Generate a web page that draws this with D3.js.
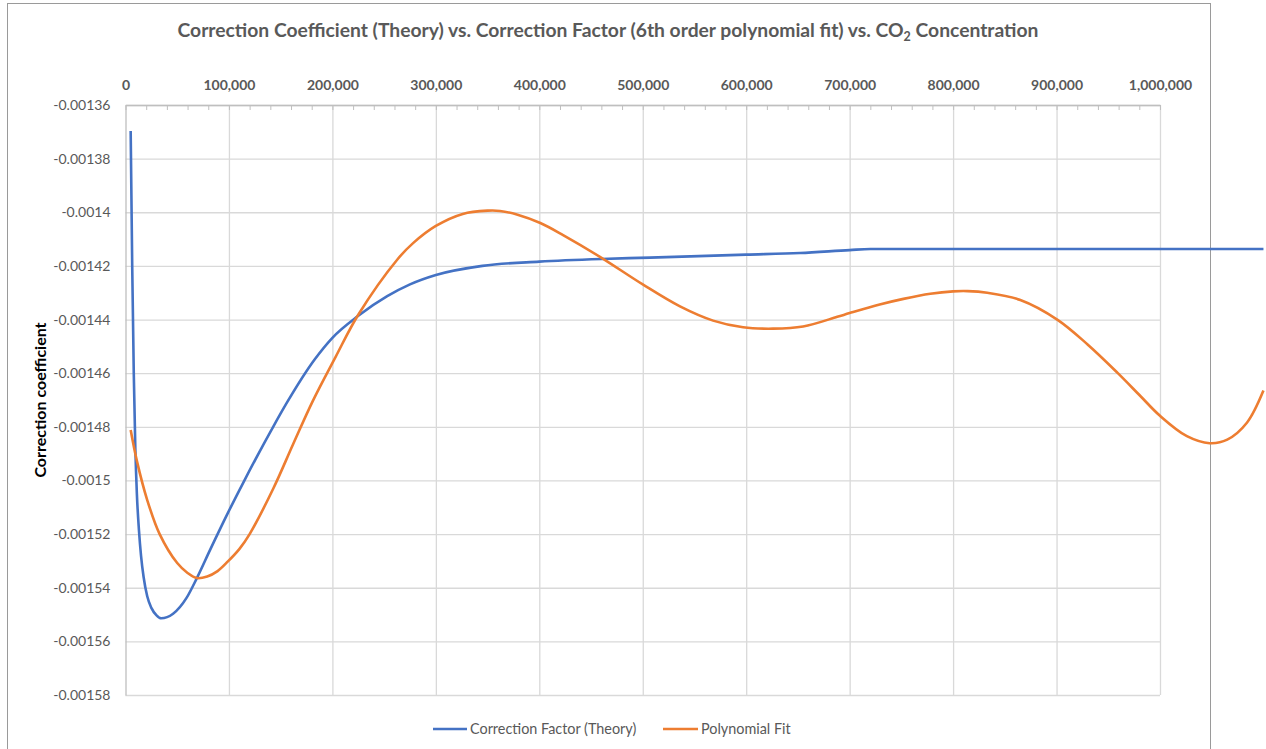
<!DOCTYPE html>
<html>
<head>
<meta charset="utf-8">
<script src="https://cdn.jsdelivr.net/npm/d3@7"></script>
<style>
  html, body { margin: 0; padding: 0; background: #ffffff; }
  svg { display: block; font-family: Lato, "Open Sans", sans-serif; }
</style>
</head>
<body>
<svg id="chart" width="1266" height="749"></svg>
<script>
// ---- data ----
const titleMain = "Correction Coefficient (Theory) vs. Correction Factor (6th order polynomial fit) vs. CO";
const titleSub = "2";
const titleEnd = " Concentration";
const yAxisTitle = "Correction coefficient";
const seriesNames = ["Correction Factor (Theory)", "Polynomial Fit"];

const xTicks = [0, 100000, 200000, 300000, 400000, 500000, 600000, 700000, 800000, 900000, 1000000];
const xMinorStep = 20000;
const yTicks = [-0.00136, -0.00138, -0.0014, -0.00142, -0.00144, -0.00146, -0.00148, -0.0015, -0.00152, -0.00154, -0.00156, -0.00158];
const yTickLabels = ["-0.00136", "-0.00138", "-0.0014", "-0.00142", "-0.00144", "-0.00146", "-0.00148", "-0.0015", "-0.00152", "-0.00154", "-0.00156", "-0.00158"];

const theoryX = [5000, 6500, 8000, 9500, 11000, 13000, 15000, 17500, 21000, 25000, 30000, 34500, 46000, 59000, 69000, 82000, 99000, 114000, 143000, 156000, 183000, 200000, 225000, 253000, 275000, 300000, 345000, 400000, 460000, 507000, 600000, 652000, 700000, 720000, 1100000];
const theoryY = [-0.0013697, -0.0014204, -0.0014600, -0.0014880, -0.0015050, -0.0015185, -0.0015280, -0.0015360, -0.0015432, -0.0015475, -0.0015503, -0.0015514, -0.0015497, -0.0015438, -0.0015364, -0.0015257, -0.0015121, -0.0015007, -0.0014798, -0.0014710, -0.0014548, -0.0014468, -0.0014386, -0.0014313, -0.0014269, -0.0014234, -0.0014200, -0.0014184, -0.0014174, -0.0014169, -0.0014158, -0.0014152, -0.0014141, -0.0014137, -0.0014137];

const fitX = [5000, 11000, 21000, 33000, 50000, 60000, 69000, 79000, 89000, 99000, 110000, 120000, 143000, 162000, 181000, 203000, 225000, 263000, 278000, 300000, 326000, 350000, 362000, 379000, 401000, 423000, 459000, 500000, 536000, 568000, 597000, 626000, 655000, 688000, 700000, 729000, 752000, 778000, 800000, 814000, 833000, 865000, 901000, 930000, 959000, 981000, 1000000, 1026000, 1048000, 1065000, 1084000, 1100000];
const fitY = [-0.0014812, -0.0014927, -0.0015073, -0.0015200, -0.0015308, -0.0015345, -0.0015364, -0.0015358, -0.0015338, -0.0015302, -0.0015256, -0.0015200, -0.0015029, -0.0014865, -0.0014704, -0.0014540, -0.0014382, -0.0014175, -0.0014115, -0.0014051, -0.0014006, -0.0013994, -0.0013995, -0.0014009, -0.0014040, -0.0014085, -0.0014167, -0.0014269, -0.0014351, -0.0014404, -0.0014429, -0.0014434, -0.0014426, -0.0014390, -0.0014376, -0.0014344, -0.0014323, -0.0014304, -0.0014295, -0.0014294, -0.0014300, -0.0014327, -0.0014401, -0.0014493, -0.0014599, -0.0014685, -0.0014759, -0.0014835, -0.0014861, -0.0014848, -0.0014785, -0.0014665];

const colors = ["#4472C4", "#ED7D31"];

// ---- layout ----
const svg = d3.select("#chart");
const W = 1266, H = 749;
const plot = { left: 125.5, right: 1160, top: 105, bottom: 695 };

svg.append("rect").attr("x", 0).attr("y", 0).attr("width", W).attr("height", H).attr("fill", "#fff");
// chart frame
svg.append("rect").attr("x", 7.5).attr("y", 3.5).attr("width", 1203).attr("height", 780)
  .attr("fill", "none").attr("stroke", "#9a9a9a").attr("stroke-width", 1);

const x = d3.scaleLinear().domain([0, 1000000]).range([plot.left, plot.right]);
const y = d3.scaleLinear().domain([-0.00136, -0.00158]).range([plot.top, plot.bottom]);

// gridlines
const gx = svg.append("g").attr("class", "grid-x")
  .attr("transform", `translate(0,${plot.bottom})`)
  .call(d3.axisBottom(x).tickValues(xTicks.slice(1)).tickSize(-(plot.bottom - plot.top)).tickFormat(""));
gx.select(".domain").remove();
gx.selectAll("line").attr("stroke", "#d9d9d9").attr("stroke-width", 1.3);

const gy = svg.append("g").attr("class", "grid-y")
  .attr("transform", `translate(${plot.left},0)`)
  .call(d3.axisLeft(y).tickValues(yTicks).tickSize(-(plot.right - plot.left)).tickFormat(""));
gy.select(".domain").remove();
gy.selectAll("line").attr("stroke", "#d9d9d9").attr("stroke-width", 1.3);

// left axis (labels)
const ay = svg.append("g")
  .attr("transform", `translate(${plot.left},0)`)
  .call(d3.axisLeft(y).tickValues(yTicks).tickSize(0).tickPadding(15)
    .tickFormat((d, i) => yTickLabels[i]));
ay.select(".domain").attr("stroke", "#bfbfbf").attr("stroke-width", 1.3);
ay.selectAll("text").attr("fill", "#595959").style("font-size", "14px")
  .style("font-family", "Lato, sans-serif");

// top axis minor ticks
const minorTicks = d3.range(0, 1000000 + 1, xMinorStep);
const axMinor = svg.append("g")
  .attr("transform", `translate(0,${plot.top})`)
  .call(d3.axisTop(x).tickValues(minorTicks).tickSizeInner(-5).tickSizeOuter(0).tickFormat(""));
axMinor.select(".domain").attr("stroke", "#bfbfbf").attr("stroke-width", 1.3);
axMinor.selectAll("line").attr("stroke", "#bfbfbf");

// top axis labels
const ax = svg.append("g")
  .attr("transform", `translate(0,${plot.top})`)
  .call(d3.axisTop(x).tickValues(xTicks).tickSize(0).tickPadding(15).tickFormat(d3.format(",")));
ax.select(".domain").remove();
ax.selectAll("text").attr("fill", "#595959").style("font-size", "14px")
  .style("font-weight", "bold").style("font-family", "Lato, sans-serif");

// lines
const theory = theoryX.map((v, i) => [v, theoryY[i]]);
const fit = fitX.map((v, i) => [v, fitY[i]]);
svg.append("path").datum(theory)
  .attr("d", d3.line().x(d => x(d[0])).y(d => y(d[1])).curve(d3.curveMonotoneX))
  .attr("fill", "none").attr("stroke", colors[0]).attr("stroke-width", 2.6).attr("stroke-linejoin", "round");
svg.append("path").datum(fit)
  .attr("d", d3.line().x(d => x(d[0])).y(d => y(d[1])).curve(d3.curveCatmullRom.alpha(0.5)))
  .attr("fill", "none").attr("stroke", colors[1]).attr("stroke-width", 2.6).attr("stroke-linejoin", "round");

// title
const t = svg.append("text").attr("x", 608).attr("y", 37).attr("text-anchor", "middle")
  .attr("fill", "#595959").style("font-size", "19.3px").style("font-weight", "bold")
  .style("font-family", "Lato, sans-serif");
t.append("tspan").text(titleMain);
t.append("tspan").text(titleSub).attr("dy", 4).style("font-size", "12.5px");
t.append("tspan").text(titleEnd).attr("dy", -4);

// y axis title
svg.append("text").attr("transform", "translate(46,400) rotate(-90)")
  .attr("text-anchor", "middle").attr("fill", "#000").style("font-size", "16px")
  .style("font-weight", "bold").style("font-family", "Lato, sans-serif").text(yAxisTitle);

// legend
const legend = svg.append("g").style("font-family", "Lato, sans-serif");
const legendItems = [{ x1: 433, x2: 467, tx: 470 }, { x1: 663, x2: 698, tx: 701 }];
legendItems.forEach((li, i) => {
  legend.append("line").attr("x1", li.x1).attr("x2", li.x2).attr("y1", 729).attr("y2", 729)
    .attr("stroke", colors[i]).attr("stroke-width", 2.6);
  legend.append("text").attr("x", li.tx).attr("y", 734).attr("fill", "#595959")
    .style("font-size", "14.4px").text(seriesNames[i]);
});
</script>
</body>
</html>
